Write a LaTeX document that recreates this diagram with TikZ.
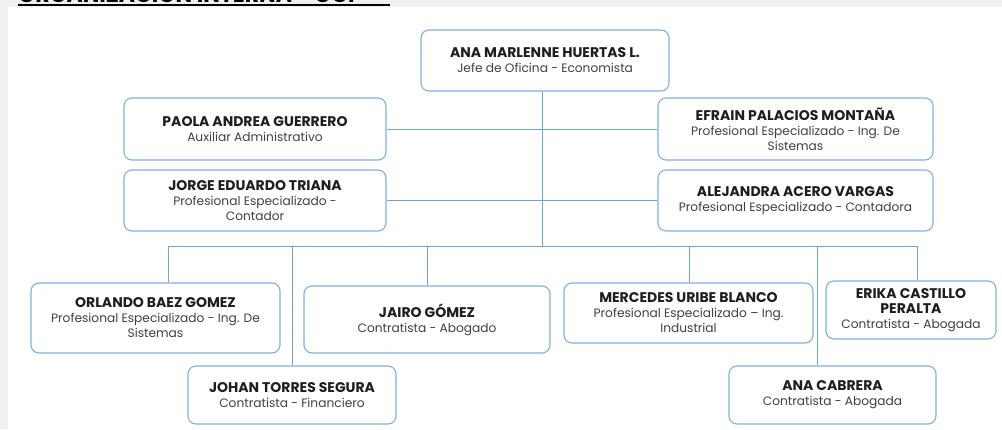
\documentclass[tikz,border=0pt]{standalone}
\usepackage{fontspec}
\setmainfont{Poppins}
\definecolor{boxline}{HTML}{7EB0E3}
\definecolor{conn}{HTML}{6FA3DA}
\definecolor{namec}{HTML}{1E1E1E}
\definecolor{subc}{HTML}{404040}
\definecolor{bggray}{HTML}{F0F0F0}
\tikzset{
  person/.style={draw=boxline, line width=1.1pt, rounded corners=8pt, fill=white,
    align=center, inner sep=0pt, minimum width=#1, font=\fontsize{12}{15}\selectfont},
  conline/.style={draw=conn, line width=0.9pt},
}
\newcommand{\nm}[1]{{\fontsize{14}{15}\selectfont\bfseries\color{namec}#1}}
\newcommand{\sbt}[1]{{\fontsize{12.2}{15}\selectfont\color{subc}#1}}
\begin{document}
\begin{tikzpicture}[x=1pt,y=-1pt]
\useasboundingbox (0,0) rectangle (1002,429);
\fill[white] (0,0) rectangle (1002,429);
\fill[bggray] (0,0) rectangle (1002,7);
\fill[bggray] (0,0) rectangle (8,429);
\begin{scope}
\clip (0,0) rectangle (1002,7);
\node[anchor=base west, inner sep=0pt, font=\fontsize{22}{22}\selectfont\bfseries] (title) at (18,2.5) {ORGANIZACIÓN INTERNA - OCI};
\end{scope}
\draw[line width=1.6pt] (18,5) -- (390,5);

% boxes
\node[person=248pt, minimum height=61pt] (ana) at (545,60.5) {\nm{ANA MARLENNE HUERTAS L.}\\\sbt{Jefe de Oficina - Economista}};
\node[person=262pt, minimum height=62pt] (paola) at (255,129) {\nm{PAOLA ANDREA GUERRERO}\\\sbt{Auxiliar Administrativo}};
\node[person=262pt, minimum height=61pt] (jorge) at (255,200.5) {\nm{JORGE EDUARDO TRIANA}\\\sbt{Profesional Especializado -}\\\sbt{Contador}};
\node[person=275pt, minimum height=62pt] (efrain) at (795.5,129) {\nm{EFRAIN PALACIOS MONTAÑA}\\\sbt{Profesional Especializado - Ing. De}\\\sbt{Sistemas}};
\node[person=275pt, minimum height=61pt] (alejandra) at (795.5,200.5) {\nm{ALEJANDRA ACERO VARGAS}\\\sbt{Profesional Especializado - Contadora}};
\node[person=249pt, minimum height=70pt] (orlando) at (155.5,318) {\nm{ORLANDO BAEZ GOMEZ}\\\sbt{Profesional Especializado - Ing. De}\\\sbt{Sistemas}};
\node[person=246pt, minimum height=67pt] (jairo) at (427,319.5) {\nm{JAIRO GÓMEZ}\\\sbt{Contratista - Abogado}};
\node[person=249pt, minimum height=60pt] (mercedes) at (688.5,313) {\nm{MERCEDES URIBE BLANCO}\\\sbt{Profesional Especializado – Ing.}\\\sbt{Industrial}};
\node[person=170pt, minimum height=58pt] (erika) at (911,310) {\nm{ERIKA CASTILLO}\\\nm{PERALTA}\\\sbt{Contratista - Abogada}};
\node[person=208pt, minimum height=58pt] (johan) at (292,395) {\nm{JOHAN TORRES SEGURA}\\\sbt{Contratista - Financiero}};
\node[person=207pt, minimum height=58pt] (cabrera) at (832.5,395) {\nm{ANA CABRERA}\\\sbt{Contratista - Abogada}};

% connectors
\coordinate (bus) at (542,246);
\coordinate (bl) at (168,246);
\coordinate (br) at (917,246);
\draw[conline] (ana.south -| bus) -- (bus);
\draw[conline] (paola.east) -- (efrain.west);
\draw[conline] (jorge.east) -- (alejandra.west);
\draw[conline] (bl) -- (br);
\draw[conline] (bl) -- (bl |- orlando.north);
\draw[conline] (johan.north |- bus) -- (johan.north);
\draw[conline] (jairo.north |- bus) -- (jairo.north);
\draw[conline] (689,246) -- (689,0 |- mercedes.north);
\draw[conline] (817,246) -- (817,0 |- cabrera.north);
\draw[conline] (br) -- (br |- erika.north);
\end{tikzpicture}
\end{document}
